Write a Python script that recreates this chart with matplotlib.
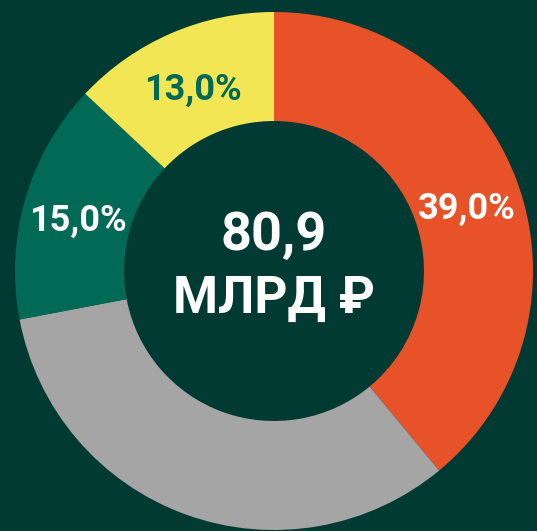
import matplotlib
matplotlib.use("Agg")
import matplotlib.pyplot as plt
import numpy as np

categories = ["A", "B", "C", "D"]
values = [39.0, 33.0, 15.0, 13.0]
labels = ["39,0%", "", "15,0%", "13,0%"]
colors = ["#e85229", "#a5a5a5", "#006a57", "#f2e655"]
label_colors = ["white", "white", "white", "#006a57"]
center_lines = ["80,9", "МЛРД ₽"]

BG = "#013a33"
W, H = 537, 531
DPI = 100
fig = plt.figure(figsize=(W / DPI, H / DPI), dpi=DPI, facecolor=BG)
ax = fig.add_axes([0, 0, 1, 1])
ax.set_facecolor(BG)

R = 259.0
cx, cy = 274.0, 271.0

inner = 150.0 / R
wedges, _ = ax.pie(values, colors=colors, startangle=90, counterclock=False,
                   radius=1.0, wedgeprops=dict(width=1.0 - inner, linewidth=0),
                   center=(0, 0), frame=True)
ax.set_xlim(-cx / R, (W - cx) / R)
ax.set_ylim(-(H - cy) / R, cy / R)
ax.set_aspect("auto")
ax.axis("off")

font = "Roboto"
rmid = (1.0 + inner) / 2
for w, lab, lc in zip(wedges, labels, label_colors):
    if not lab:
        continue
    ang = np.deg2rad((w.theta1 + w.theta2) / 2)
    x, y = rmid * np.cos(ang), rmid * np.sin(ang) - 7 / R
    ax.text(x, y, lab, color=lc, fontsize=26, fontweight="bold", family=font,
            ha="center", va="center")

ax.text(0, (271 - 250) / R, center_lines[0], color="white", fontsize=39,
        fontweight="bold", family=font, ha="center", va="baseline")
ax.text(0, (271 - 313) / R, center_lines[1], color="white", fontsize=37,
        fontweight="bold", family=[font, "DejaVu Sans"], ha="center", va="baseline")

fig.savefig("out.png", dpi=DPI, facecolor=BG)
